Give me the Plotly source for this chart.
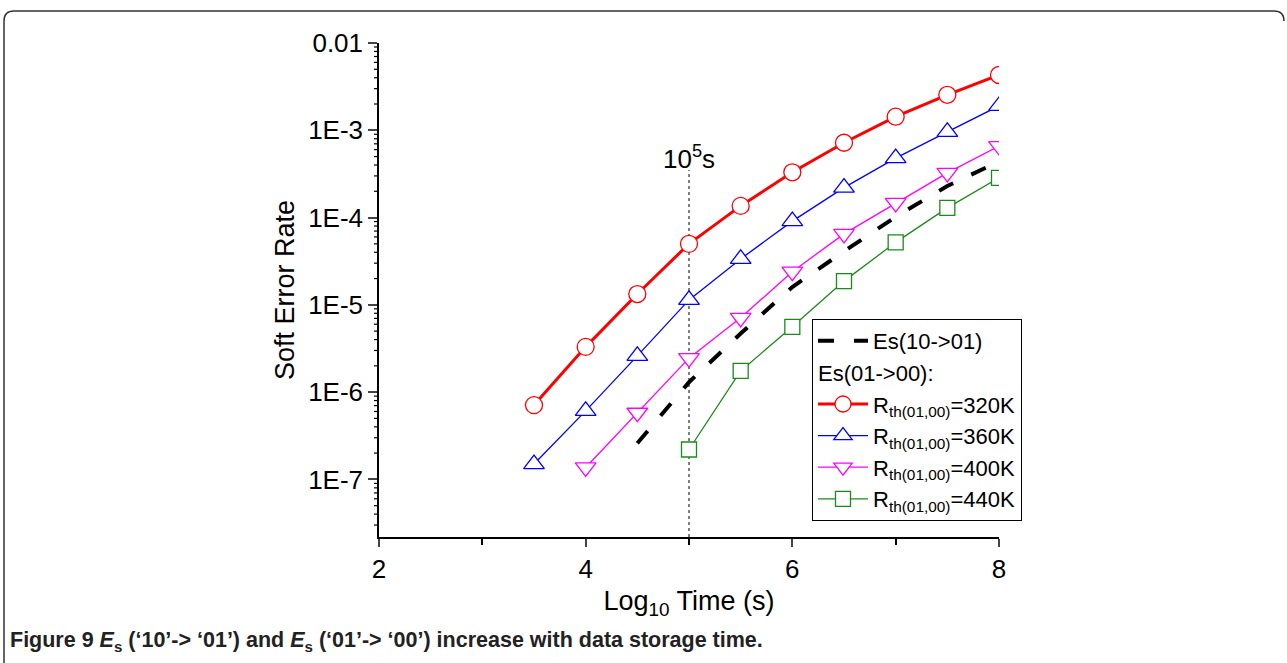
import math
import plotly.graph_objects as go

# ---- data (log10 time, soft error rate) ----
x_320 = [3.5, 4.0, 4.5, 5.0, 5.5, 6.0, 6.5, 7.0, 7.5, 8.0]
y_320 = [7.1e-7, 3.3e-6, 1.33e-5, 5.0e-5, 1.36e-4, 3.3e-4, 7.2e-4, 1.43e-3, 2.55e-3, 4.3e-3]

x_360 = [3.5, 4.0, 4.5, 5.0, 5.5, 6.0, 6.5, 7.0, 7.5, 8.0]
y_360 = [1.5e-7, 6.1e-7, 2.6e-6, 1.14e-5, 3.36e-5, 9.1e-5, 2.2e-4, 4.8e-4, 9.6e-4, 1.9e-3]

x_400 = [4.0, 4.5, 5.0, 5.5, 6.0, 6.5, 7.0, 7.5, 8.0]
y_400 = [1.37e-7, 5.8e-7, 2.45e-6, 7.1e-6, 2.4e-5, 6.5e-5, 1.47e-4, 3.25e-4, 6.6e-4]

x_440 = [5.0, 5.5, 6.0, 6.5, 7.0, 7.5, 8.0]
y_440 = [2.2e-7, 1.75e-6, 5.6e-6, 1.87e-5, 5.2e-5, 1.29e-4, 2.85e-4]

x_es = [4.5, 5.0, 5.5, 6.0, 6.5, 7.0, 7.5, 8.0]
y_es = [2.6e-7, 1.3e-6, 4.7e-6, 1.6e-5, 4.1e-5, 1.02e-4, 2.3e-4, 4.4e-4]

y_tickvals = [1e-2, 1e-3, 1e-4, 1e-5, 1e-6, 1e-7]
y_ticktext = ["0.01", "1E-3", "1E-4", "1E-5", "1E-6", "1E-7"]
x_tickvals = [2, 4, 6, 8]
x_minor = [3, 5, 7]
y_minor = [k * 10.0 ** e for e in range(-8, -2) for k in range(2, 10)]

FONT = "Liberation Sans, Arial, sans-serif"
Y_RANGE = [-7.66, -2]

# plot area in pixels
L, R, T, B = 379, 288, 43, 126
W, H = 1287, 663
PW, PH = W - L - R, H - T - B


def px(xp):
    return (xp - L) / PW


def py(yp):
    return (H - B - yp) / PH


fig = go.Figure()

fig.add_trace(go.Scatter(
    x=x_es, y=y_es, mode="lines", name="Es(10-&gt;01)",
    line=dict(color="black", width=4, dash="16px,20px"),
    legendgroup="a",
))

common = dict(mode="lines+markers", legendgroup="b",
              legendgrouptitle=dict(text="Es(01-&gt;00):", font=dict(size=22, family=FONT, color="black")))

fig.add_trace(go.Scatter(
    x=x_320, y=y_320, name="R<sub>th(01,00)</sub>=320K",
    line=dict(color="#ff0000", width=3),
    marker=dict(symbol="circle", size=17, color="white", line=dict(color="#ff0000", width=1.3)),
    **common))
fig.add_trace(go.Scatter(
    x=x_360, y=y_360, name="R<sub>th(01,00)</sub>=360K",
    line=dict(color="#0000ff", width=1.3),
    marker=dict(symbol="triangle-up", size=18, color="white", line=dict(color="#0000ff", width=1.3)),
    **common))
fig.add_trace(go.Scatter(
    x=x_400, y=y_400, name="R<sub>th(01,00)</sub>=400K",
    line=dict(color="#ff00ff", width=1.3),
    marker=dict(symbol="triangle-down", size=18, color="white", line=dict(color="#ff00ff", width=1.3)),
    **common))
fig.add_trace(go.Scatter(
    x=x_440, y=y_440, name="R<sub>th(01,00)</sub>=440K",
    line=dict(color="#1a8a1a", width=1.3),
    marker=dict(symbol="square", size=15, color="white", line=dict(color="#1a8a1a", width=1.3)),
    **common))

# minor ticks of the log y axis
for v in y_minor:
    yp = (math.log10(v) - Y_RANGE[0]) / (Y_RANGE[1] - Y_RANGE[0])
    if 0 <= yp <= 1:
        fig.add_shape(type="line", xref="paper", yref="paper", x0=-5 / PW, x1=0, y0=yp, y1=yp,
                      line=dict(color="black", width=1.2))

# vertical dotted marker at 10^5 s
fig.add_shape(type="line", xref="x", yref="paper", x0=5, x1=5, y0=0, y1=py(170),
              line=dict(color="black", width=1, dash="3px,3px"), layer="below")
fig.add_annotation(xref="x", yref="paper", x=5, y=py(157), text="10<sup>5</sup>s",
                   showarrow=False, font=dict(size=26, family=FONT, color="black"),
                   xanchor="center", yanchor="middle")

# rounded frame
x0, x1 = px(4), px(1284)
y0, y1 = py(663), py(11)
rx, ry = 10 / PW, 10 / PH
path = (f"M {x0},{y0} L {x0},{y1 - ry} Q {x0},{y1} {x0 + rx},{y1} "
        f"L {x1 - rx},{y1} Q {x1},{y1} {x1},{y1 - ry}")
fig.add_shape(type="path", xref="paper", yref="paper", path=path,
              line=dict(color="#333333", width=1.5))

# caption
fig.add_annotation(xref="paper", yref="paper", x=px(8), y=py(641), xanchor="left", yanchor="middle",
                   showarrow=False, align="left",
                   text="<b>Figure 9 <i>E</i><sub>s</sub> (‘10’-&gt; ‘01’) and <i>E</i><sub>s</sub> (‘01’-&gt; ‘00’) increase with data storage time.</b>",
                   font=dict(size=21.5, family=FONT, color="#222222"))

fig.update_layout(
    width=W, height=H,
    margin=dict(l=L, r=R, t=T, b=B),
    paper_bgcolor="white", plot_bgcolor="white",
    font=dict(family=FONT, color="black"),
    showlegend=True,
    legend=dict(x=px(812), y=py(319), xanchor="left", yanchor="top",
                bgcolor="white", bordercolor="black", borderwidth=1,
                font=dict(size=22, family=FONT, color="black"),
                itemwidth=50, tracegroupgap=0, traceorder="grouped"),
    xaxis=dict(range=[2, 8], tickvals=x_tickvals, ticks="outside", ticklen=8, tickwidth=1.5,
               showline=True, linecolor="black", linewidth=1.5, showgrid=False, zeroline=False,
               tickfont=dict(size=26, family=FONT),
               minor=dict(tickvals=x_minor, ticks="outside", ticklen=6, tickwidth=1.5, tickcolor="black"),
               title=dict(text="Log<sub>10</sub> Time (s)", font=dict(size=27, family=FONT), standoff=8)),
    yaxis=dict(type="log", range=Y_RANGE, tickvals=y_tickvals, ticktext=y_ticktext,
               ticks="outside", ticklen=9, tickwidth=1.5,
               showline=True, linecolor="black", linewidth=1.5, showgrid=False, zeroline=False,
               tickfont=dict(size=26, family=FONT),
               title=dict(text="Soft Error Rate", font=dict(size=27, family=FONT), standoff=6)),
)

fig.write_html("out.html")
